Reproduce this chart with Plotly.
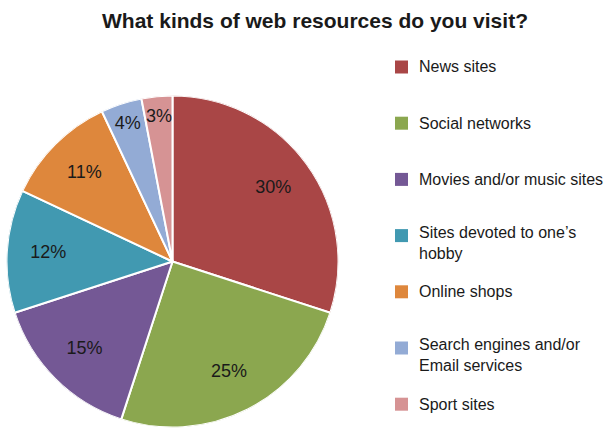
import plotly.graph_objects as go

# Survey answers: share of respondents per kind of web resource
categories = [
    "News sites",
    "Social networks",
    "Movies and/or music sites",
    "Sites devoted to one’s<br>hobby",
    "Online shops",
    "Search engines and/or<br>Email services",
    "Sport sites",
]
shares = [30, 25, 15, 12, 11, 4, 3]
colors = ["#A94646", "#8BA74F", "#745895", "#4199B1", "#DE873C", "#93ABD5", "#D69394"]

W, H = 611, 428
FONT = "Liberation Sans, Arial, Helvetica, sans-serif"
TEXT = "#1a1a1a"

# pie occupies a square box (pixels from the top-left corner)
px0, px1, py0, py1 = 6.5, 338.5, 95.5, 427.5
pie_domain = dict(x=[px0 / W, px1 / W], y=[1 - py1 / H, 1 - py0 / H])

# slice geometry on a polar axis: 0 deg = 12 o'clock, clockwise
total = sum(shares)
spans = [v / total * 360 for v in shares]
mid_angles, acc = [], 0
for s in spans:
    mid_angles.append(acc + s / 2)
    acc += s
label_r = [0.75 if v >= 10 else 0.87 for v in shares]

fig = go.Figure()
fig.add_trace(go.Barpolar(
    r=[1] * len(shares),
    theta=mid_angles,
    width=spans,
    marker=dict(color=colors, line=dict(color="white", width=2)),
    customdata=[c.replace("<br>", " ") for c in categories],
    text=[f"{v}%" for v in shares],
    hovertemplate="%{customdata}: %{text}<extra></extra>",
    showlegend=False,
))

# percentage labels inside each slice
fig.add_trace(go.Scatterpolar(
    r=label_r,
    theta=mid_angles,
    mode="text",
    text=[f"{v}%" for v in shares],
    textfont=dict(family=FONT, size=18, color=TEXT),
    hoverinfo="skip",
    showlegend=False,
))

# legend drawn as colour squares with captions on the right
shapes, annotations = [], []
sq_x0, sq_size, text_x = 395, 13, 417
row0, row_gap = 67, 56.2
for i, (cat, col) in enumerate(zip(categories, colors)):
    cy = row0 + i * row_gap
    shapes.append(dict(
        type="rect", xref="paper", yref="paper",
        x0=sq_x0 / W, x1=(sq_x0 + sq_size) / W,
        y0=1 - (cy + sq_size / 2) / H, y1=1 - (cy - sq_size / 2) / H,
        fillcolor=col, line=dict(width=0),
    ))
    multiline = "<br>" in cat
    top = cy - (14 if multiline else 10.5)
    annotations.append(dict(
        text=cat, xref="paper", yref="paper",
        x=text_x / W, y=1 - top / H, xanchor="left", yanchor="top",
        align="left", showarrow=False,
        font=dict(family=FONT, size=16, color=TEXT),
    ))

fig.update_layout(
    width=W, height=H,
    margin=dict(l=0, r=0, t=0, b=0),
    paper_bgcolor="white", plot_bgcolor="white",
    polar=dict(
        domain=pie_domain,
        bgcolor="rgba(0,0,0,0)",
        bargap=0,
        angularaxis=dict(rotation=90, direction="clockwise", visible=False),
        radialaxis=dict(range=[0, 1], visible=False),
    ),
    title=dict(
        text="<b>What kinds of web resources do you visit?</b>",
        x=315 / W, xanchor="center", y=1 - 21 / H, yanchor="middle",
        font=dict(family=FONT, size=21, color=TEXT),
    ),
    shapes=shapes, annotations=annotations,
)

fig.write_html("out.html")
